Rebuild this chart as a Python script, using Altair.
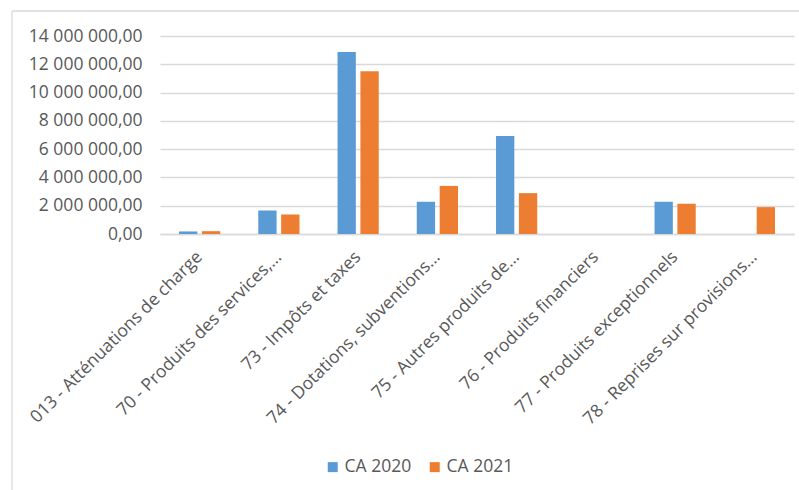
import altair as alt
import pandas as pd

# Chapitres de recettes et montants par exercice
categories = [
    "013 - Atténuations de charge",
    "70 - Produits des services,…",
    "73 - Impôts et taxes",
    "74 - Dotations, subventions…",
    "75 - Autres produits de…",
    "76 - Produits financiers",
    "77 - Produits exceptionnels",
    "78 - Reprises sur provisions…",
]
ca_2020 = [180000, 1660000, 12870000, 2280000, 6930000, 0, 2280000, 0]
ca_2021 = [200000, 1380000, 11510000, 3400000, 2890000, 0, 2140000, 1900000]
series = ["CA 2020", "CA 2021"]
colors = ["#5B9BD5", "#ED7D31"]
y_ticks = [0, 2000000, 4000000, 6000000, 8000000, 10000000, 12000000, 14000000]

rows = []
for cat, v20, v21 in zip(categories, ca_2020, ca_2021):
    rows.append({"chapitre": cat, "serie": series[0], "montant": v20})
    rows.append({"chapitre": cat, "serie": series[1], "montant": v21})
df = pd.DataFrame(rows)

TXT = "#595959"
GRID = "#D9D9D9"
FONT = "Open Sans"
FS = 17.5

fr_format = (
    "replace(replace(format(datum.value, ',.2f'), regexp(',', 'g'), ' '), '.', ',')"
)

bars = (
    alt.Chart(df)
    .mark_bar()
    .encode(
        x=alt.X(
            "chapitre:N",
            sort=categories,
            title=None,
            scale=alt.Scale(paddingInner=0.48, paddingOuter=0.24),
            axis=alt.Axis(
                labelAngle=-45,
                labelAlign="right",
                labelBaseline="middle",
                labelPadding=20,
                labelLimit=400,
                labelColor=TXT,
                labelFont=FONT,
                labelFontSize=FS,
                ticks=False,
                domainColor=GRID,
                domainWidth=1.3,
                grid=False,
            ),
        ),
        xOffset=alt.XOffset(
            "serie:N", sort=series, scale=alt.Scale(paddingInner=0.2, paddingOuter=0)
        ),
        y=alt.Y(
            "montant:Q",
            title=None,
            scale=alt.Scale(domain=[0, 14000000], nice=False),
            axis=alt.Axis(
                values=y_ticks,
                labelExpr=fr_format,
                labelColor=TXT,
                labelFont=FONT,
                labelFontSize=FS,
                labelPadding=18,
                ticks=False,
                domain=False,
                gridColor=GRID,
                gridWidth=1.3,
            ),
        ),
        color=alt.Color(
            "serie:N",
            sort=series,
            scale=alt.Scale(domain=series, range=colors),
            legend=alt.Legend(
                title=None,
                orient="none",
                legendX=164,
                legendY=422,
                direction="horizontal",
                symbolType="square",
                symbolSize=100,
                symbolStrokeWidth=0,
                labelColor=TXT,
                labelFont=FONT,
                labelFontSize=FS,
                columnPadding=14,
                labelOffset=3,
            ),
        ),
    )
)

# Cadre du graphique (bords haut et gauche)
frame_top = (
    alt.Chart(alt.Data(values=[{}]))
    .mark_rule(color=GRID, strokeWidth=1.3)
    .encode(x=alt.value(-148), x2=alt.value(640), y=alt.value(-25))
)
frame_left = (
    alt.Chart(alt.Data(values=[{}]))
    .mark_rule(color=GRID, strokeWidth=1.3)
    .encode(x=alt.value(-148), y=alt.value(-25), y2=alt.value(460))
)

chart = (
    alt.layer(frame_top, frame_left, bars)
    .properties(
        width=634,
        height=198,
        padding={"left": 160, "top": 36, "right": 5, "bottom": 256},
        autosize=alt.AutoSizeParams(type="none"),
        background="white",
    )
    .configure_view(stroke=None)
)

chart.save("out.html", embed_options={"renderer": "svg", "actions": False})
